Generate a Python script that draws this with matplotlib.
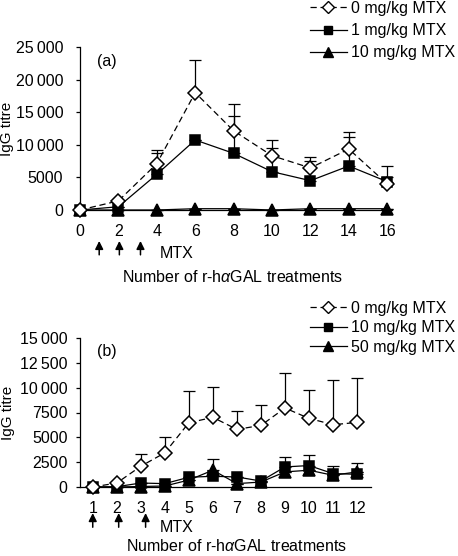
import matplotlib
matplotlib.use('Agg')
import matplotlib.pyplot as plt
from matplotlib.lines import Line2D

plt.rcParams['font.family'] = ['Liberation Sans', 'DejaVu Sans']
plt.rcParams['mathtext.fontset'] = 'custom'
plt.rcParams['mathtext.rm'] = 'Liberation Sans'
plt.rcParams['mathtext.it'] = 'Liberation Sans:italic'

# ---- Panel (a) data ----
a_x = [0, 2, 4, 6, 8, 10, 12, 14, 16]
a_mtx0 = [0, 1400, 7100, 18000, 12150, 8330, 6450, 9350, 4000]
a_mtx0_err = [0, 0, 2100, 5000, 4050, 2410, 1730, 2550, 2760]
a_mtx1 = [0, 500, 5470, 10740, 8690, 5880, 4500, 6750, 4350]
a_mtx1_err = [0, 0, 3320, 0, 5780, 3680, 3020, 4400, 760]
a_mtx10 = [0, 0, 0, 200, 200, 0, 200, 200, 200]
a_labels = ['0 mg/kg MTX', '1 mg/kg MTX', '10 mg/kg MTX']
a_yticks = [0, 5000, 10000, 15000, 20000, 25000]
a_yticklabels = ['0', '5000', '10\u2009000', '15\u2009000', '20\u2009000', '25\u2009000']
a_arrows = [1, 2.05, 3.15]

# ---- Panel (b) data ----
b_x = [1, 2, 3, 4, 5, 6, 7, 8, 9, 10, 11, 12]
b_mtx0 = [0, 400, 2090, 3440, 6470, 7010, 5800, 6200, 7950, 6910, 6270, 6500]
b_mtx0_err = [0, 0, 1210, 1610, 3170, 3030, 1880, 2050, 3510, 2860, 4510, 4520]
b_mtx10 = [0, 30, 400, 340, 980, 1080, 1010, 600, 2020, 2160, 1350, 1280]
b_mtx10_err = [0, 0, 0, 0, 0, 0, 0, 0, 1010, 1040, 770, 1150]
b_mtx50 = [0, 0, 50, 100, 700, 1690, 340, 500, 1520, 1690, 1180, 1520]
b_mtx50_err = [0, 0, 0, 0, 0, 1170, 0, 0, 0, 0, 0, 0]
b_labels = ['0 mg/kg MTX', '10 mg/kg MTX', '50 mg/kg MTX']
b_yticks = [0, 2500, 5000, 7500, 10000, 12500, 15000]
b_yticklabels = ['0', '2500', '5000', '7500', '10\u2009000', '12\u2009500', '15\u2009000']
b_arrows = [1, 2.08, 3.2]

W, H = 458, 556
fig = plt.figure(figsize=(W / 100, H / 100), dpi=100)

FS = 11.5
TFS = 11.5
LFS = 11
LW = 0.9
dash = (0, (5, 3))


def px_axes(l, r, t, b):
    return fig.add_axes([l / W, 1 - b / H, (r - l) / W, (b - t) / H])


def style_axes(ax, ypad):
    for s in ['top', 'right']:
        ax.spines[s].set_visible(False)
    for s in ['left', 'bottom']:
        ax.spines[s].set_linewidth(LW)
    ax.tick_params(axis='y', direction='out', length=3, width=LW, pad=ypad, labelsize=TFS)
    ax.tick_params(axis='x', length=0, pad=10, labelsize=TFS)


def draw_series(ax, x, y, err, marker, ms, ls, face):
    ax.errorbar(x, y, yerr=[[0] * len(err), err], fmt='none', ecolor='black',
                elinewidth=LW, capsize=4, capthick=LW, zorder=2, clip_on=False)
    ax.plot(x, y, color='black', lw=LW, linestyle=ls, marker=marker,
            markersize=ms, markerfacecolor=face, markeredgecolor='black',
            markeredgewidth=1.1, zorder=3, clip_on=False)


def arrows(ax, xs, tip, tail):
    tr = ax.get_xaxis_transform()
    for xa in xs:
        ax.annotate('', xy=(xa, tip), xytext=(xa, tail), xycoords=tr, textcoords=tr,
                    arrowprops=dict(arrowstyle='-|>', color='black', lw=1.1,
                                    mutation_scale=12, shrinkA=0, shrinkB=0),
                    annotation_clip=False)


def legend_handles():
    return [Line2D([], [], color='black', lw=LW, linestyle=dash, marker='D', markersize=6,
                   markerfacecolor='white', markeredgecolor='black'),
            Line2D([], [], color='black', lw=LW, marker='s', markersize=6,
                   markerfacecolor='black'),
            Line2D([], [], color='black', lw=LW, marker='^', markersize=7,
                   markerfacecolor='black')]


# ---------------- Panel (a) ----------------
axa = px_axes(80, 392, 47, 210)
style_axes(axa, 9)
draw_series(axa, a_x, a_mtx10, [0] * len(a_x), '^', 8, '-', 'black')
draw_series(axa, a_x, a_mtx1, a_mtx1_err, 's', 7, '-', 'black')
draw_series(axa, a_x, a_mtx0, a_mtx0_err, 'D', 7, dash, 'white')
axa.set_xlim(0, 16.25)
axa.set_ylim(0, 25000)
axa.set_xticks(a_x)
axa.set_xticklabels([str(v) for v in a_x])
axa.set_yticks(a_yticks)
axa.set_yticklabels(a_yticklabels)
axa.set_ylabel('IgG titre', fontsize=LFS)
axa.yaxis.set_label_coords(-0.21, 0.5)
axa.text(0.055, 0.96, '(a)', transform=axa.transAxes, fontsize=FS, va='top', ha='left')
arrows(axa, a_arrows, -0.19, -0.275)
axa.text(4.15, -0.265, 'MTX', transform=axa.get_xaxis_transform(), fontsize=FS,
         va='center', ha='left')
fig.text(233 / W, 1 - 277 / H, r'Number of r-h$\alpha$GAL treatments', fontsize=FS,
         ha='center', va='center')
fig.legend(legend_handles(), a_labels, loc='upper left', bbox_to_anchor=(310 / W, 1 - 1 / H),
           frameon=False, fontsize=FS, handlelength=2.3, handletextpad=0.25,
           labelspacing=0.45, borderpad=0, borderaxespad=0)

# ---------------- Panel (b) ----------------
axb = px_axes(80, 371, 338, 487)
style_axes(axb, 6)
draw_series(axb, b_x, b_mtx50, b_mtx50_err, '^', 8, '-', 'black')
draw_series(axb, b_x, b_mtx10, b_mtx10_err, 's', 7, '-', 'black')
draw_series(axb, b_x, b_mtx0, b_mtx0_err, 'D', 7, dash, 'white')
axb.set_xlim(0.47, 12.58)
axb.set_ylim(0, 15000)
axb.set_xticks(b_x)
axb.set_xticklabels([str(v) for v in b_x])
axb.set_yticks(b_yticks)
axb.set_yticklabels(b_yticklabels)
axb.set_ylabel('IgG titre', fontsize=LFS)
axb.yaxis.set_label_coords(-0.225, 0.5)
axb.text(0.06, 0.96, '(b)', transform=axb.transAxes, fontsize=FS, va='top', ha='left')
arrows(axb, b_arrows, -0.175, -0.27)
axb.text(3.78, -0.275, 'MTX', transform=axb.get_xaxis_transform(), fontsize=FS,
         va='center', ha='left')
fig.text(237 / W, 1 - 546 / H, r'Number of r-h$\alpha$GAL treatments', fontsize=FS,
         ha='center', va='center')
fig.legend(legend_handles(), b_labels, loc='upper left', bbox_to_anchor=(310 / W, 1 - 301 / H),
           frameon=False, fontsize=FS, handlelength=2.3, handletextpad=0.25,
           labelspacing=0.28, borderpad=0, borderaxespad=0)

fig.savefig('out.png', dpi=100)
